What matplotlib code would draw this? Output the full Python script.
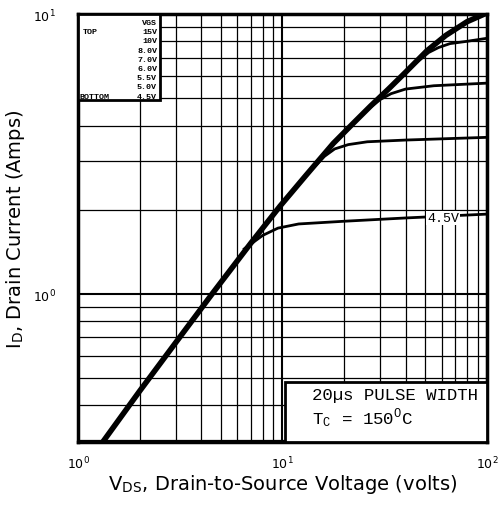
import matplotlib.pyplot as plt
from matplotlib.patches import Rectangle

plt.rcParams['font.family'] = ['DejaVu Sans']
plt.rcParams['mathtext.fontset'] = 'stix'

# kurver lest av bildet (VDS i volt, ID i ampere)
vds_main = [1.32, 2, 3, 4.52, 7, 9.72, 13, 17.7, 22, 27, 33, 40, 50.9, 63, 80, 100]
id_main = [0.296, 0.45, 0.67, 1.0, 1.52, 2.06, 2.65, 3.45, 4.05, 4.7, 5.4, 6.2, 7.4, 8.4, 9.4, 10.1]

vds_45 = [6.5, 8, 9.5, 12, 20, 40, 100]
id_45 = [1.45, 1.62, 1.72, 1.78, 1.82, 1.87, 1.93]

vds_50 = [14, 16, 18, 21, 26, 40, 100]
id_50 = [2.8, 3.1, 3.3, 3.42, 3.5, 3.55, 3.63]

vds_55 = [26, 30, 34, 40, 55, 100]
id_55 = [4.55, 4.95, 5.2, 5.4, 5.55, 5.67]

vds_60 = [45, 52, 58, 66, 80, 100]
id_60 = [6.7, 7.3, 7.6, 7.85, 8.0, 8.2]

vgs_liste = ["VGS", "15V", "10V", "8.0V", "7.0V", "6.0V", "5.5V", "5.0V", "4.5V"]

fig = plt.figure(figsize=(5.04, 5.06), dpi=100)
ax = fig.add_axes([0.155, 0.1245, 0.811, 0.8455])
ax.set_xscale('log')
ax.set_yscale('log')
ax.set_xlim(1, 100)
ax.set_ylim(0.296, 10)

ax.grid(which='major', color='black', linewidth=1.5)
ax.grid(which='minor', color='black', linewidth=0.9)
ax.tick_params(which='both', length=0, labelsize=9)
ax.tick_params(axis='y', pad=16)
ax.tick_params(axis='x', pad=9)
ax.set_yticks([1, 10])
for s in ax.spines.values():
    s.set_linewidth(2.5)

ax.plot(vds_main, id_main, color='black', linewidth=4, solid_capstyle='butt', zorder=5)
ax.plot(vds_45, id_45, color='black', linewidth=2, zorder=4)
ax.plot(vds_50, id_50, color='black', linewidth=2, zorder=4)
ax.plot(vds_55, id_55, color='black', linewidth=2, zorder=4)
ax.plot(vds_60, id_60, color='black', linewidth=2, zorder=4)

ax.text(61, 1.87, "4.5V", family='Liberation Mono', fontsize=9.5, ha='center', va='center',
        bbox=dict(facecolor='white', edgecolor='none', pad=1), zorder=6)

# legendeboks oppe til venstre
ax.add_patch(Rectangle((0, 0.80), 0.2, 0.2, transform=ax.transAxes, facecolor='white',
                       edgecolor='black', linewidth=2, zorder=6))
for i, t in enumerate(vgs_liste):
    ax.text(0.193, 0.981 - i * 0.0216, t, transform=ax.transAxes, family='Liberation Mono',
            fontsize=6, weight='bold', ha='right', va='center', zorder=7)
ax.text(0.012, 0.981 - 0.0216, "TOP", transform=ax.transAxes, family='Liberation Mono',
        fontsize=6, weight='bold', ha='left', va='center', zorder=7)
ax.text(0.004, 0.981 - 8 * 0.0216, "BOTTOM", transform=ax.transAxes, family='Liberation Mono',
        fontsize=6, weight='bold', ha='left', va='center', zorder=7)

# tekstboks nede til høyre
ax.add_patch(Rectangle((0.506, 0.0), 0.494, 0.14, transform=ax.transAxes, facecolor='white',
                       edgecolor='black', linewidth=2, zorder=6))
ax.text(0.572, 0.112, "20µs PULSE WIDTH", transform=ax.transAxes, family='Liberation Mono',
        fontsize=12.5, ha='left', va='center', zorder=7)
ax.text(0.572, 0.055, r"T$_\mathregular{C}$ = 150$^\mathregular{O}$C", transform=ax.transAxes,
        family='Liberation Mono', fontsize=12.5, ha='left', va='center', zorder=7)

ax.set_xlabel(r"V$_\mathregular{DS}$, Drain-to-Source Voltage (volts)", fontsize=14, labelpad=1)
ax.set_ylabel(r"I$_\mathregular{D}$, Drain Current (Amps)", fontsize=14, labelpad=4)

plt.savefig("out.png", dpi=100)
